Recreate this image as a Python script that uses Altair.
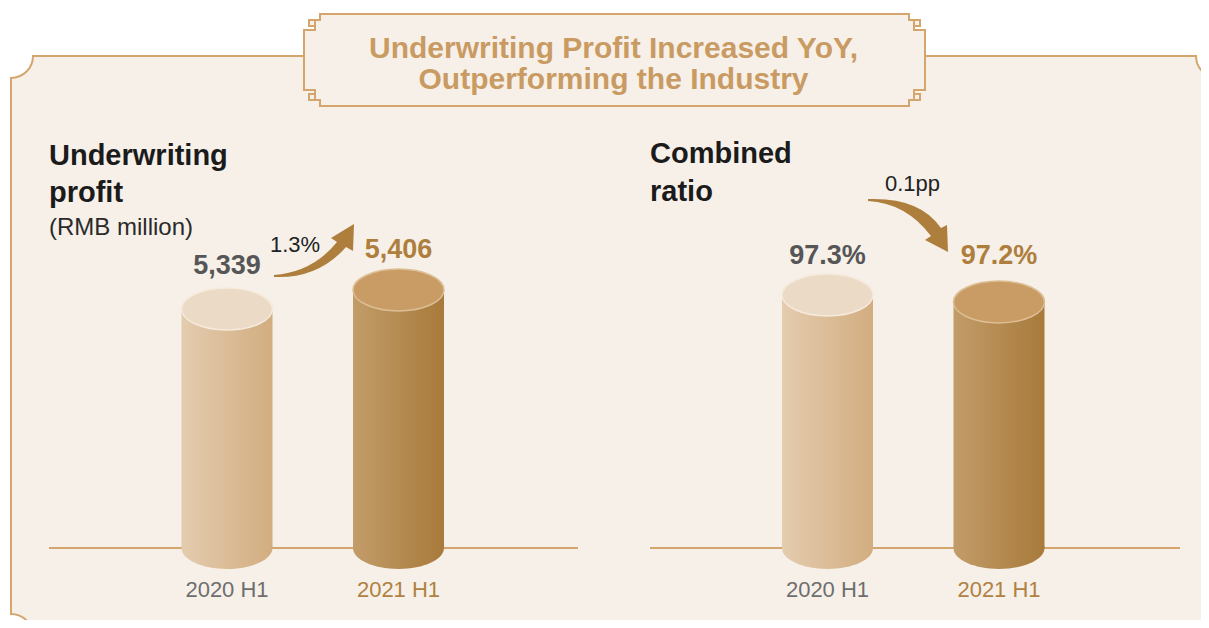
import altair as alt
import pandas as pd

# ---------------- data ----------------
periods = ["2020 H1", "2021 H1"]
profit = [5339, 5406]            # RMB million
ratio = [97.3, 97.2]             # %
profit_change = "1.3%"
ratio_change = "0.1pp"
title_lines = ["Underwriting Profit Increased YoY,", "Outperforming the Industry"]
left_title = ["Underwriting", "profit"]
left_unit = "(RMB million)"
right_title = ["Combined", "ratio"]

# ---------------- style ----------------
FONT = "Liberation Sans"
BG = "#F6F0E9"
LINE = "#D4A66E"
GOLD = "#AE7E3D"
GREY = "#565656"
TITLE_C = "#C99B63"

W, H = 1193, 612
BASE_PX = 540


def grad(c0, c1):
    return alt.LinearGradient(
        gradient="linear",
        stops=[alt.GradientStop(color=c0, offset=0), alt.GradientStop(color=c1, offset=1)],
        x1=0, x2=1, y1=0, y2=0,
    )


BODY = [grad("#E4CCAF", "#D2AD80"), grad("#C29C69", "#A87A3B")]
TOP = ["#EBDBC6", "#C99C66"]
RIM = ["#F5EADC", "#DDBE94"]
VAL_C = [GREY, GOLD]
CAT_C = ["#6E6E6E", "#B08141"]

BAR_W = 91
ELL = "M-1,0A1,0.46 0 1,0 1,0A1,0.46 0 1,0 -1,0Z"


def one():
    return alt.Chart(pd.DataFrame({"k": [0]}))


def deco(path, fill=None, stroke=None, sw=2):
    kw = dict(shape=path, size=4, opacity=1, strokeWidth=sw)
    if fill is not None:
        kw.update(filled=True, fill=fill)
    else:
        kw.update(filled=False, fill="transparent")
    if stroke is not None:
        kw.update(stroke=stroke)
    else:
        kw.update(strokeWidth=0)
    return one().mark_point(**kw).encode(x=alt.value(-8), y=alt.value(-8))


def label(text, x, y, size, color, weight="normal", align="left"):
    return one().mark_text(
        text=text, font=FONT, fontSize=size, fontWeight=weight, color=color,
        align=align, baseline="alphabetic",
    ).encode(x=alt.value(x), y=alt.value(y))


def panel(values, base, top_px, x_rng, fmt, dys):
    df = pd.DataFrame({"period": periods, "value": values})
    xs = alt.Scale(type="point", domain=periods, range=x_rng, padding=0)
    ys = alt.Scale(domain=[base, max(values)], range=[BASE_PX, top_px], zero=False, nice=False)
    X = alt.X("period:N", scale=xs, axis=None)
    Y = alt.Y("value:Q", scale=ys, axis=None)
    YB = alt.Y("base:Q", scale=ys, axis=None)
    src = alt.Chart(df).transform_calculate(base=str(base), lbl=fmt)
    out = []
    for i, p in enumerate(periods):
        d = src.transform_filter(alt.datum.period == p)
        out.append(d.mark_bar(size=BAR_W, fill=BODY[i]).encode(x=X, y=Y, y2="base:Q"))
        out.append(d.mark_point(shape=ELL, size=BAR_W * BAR_W, filled=True, fill=BODY[i],
                                strokeWidth=0, opacity=1).encode(x=X, y=YB))
        out.append(d.mark_point(shape=ELL, size=BAR_W * BAR_W, filled=True, fill=TOP[i],
                                stroke=RIM[i], strokeWidth=1.5, opacity=1).encode(x=X, y=Y))
        out.append(d.mark_text(font=FONT, fontSize=27, fontWeight="bold", dy=dys[i],
                               baseline="alphabetic", color=VAL_C[i]).encode(
            x=X, y=Y, text="lbl:N"))
        out.append(d.mark_text(font=FONT, fontSize=22, baseline="alphabetic",
                               color=CAT_C[i]).encode(
            x=X, y=alt.value(589), text="period:N"))
    return out


FRAME = ("M11,78 A22,22 0 0,0 33,56 L1196,56 A22,22 0 0,0 1218,78 L1218,614 "
         "A22,22 0 0,0 1196,636 L33,636 A22,22 0 0,0 11,614 Z")
TBOX = ("M320,14 L909,14 L909,20 L914,20 L914,30 L925,30 L925,90 L914,90 L914,100 "
        "L909,100 L909,106 L320,106 L320,100 L315,100 L315,90 L304,90 L304,30 L315,30 "
        "L315,20 L320,20 Z "
        "M315,20 L309,20 L309,26 L315,26 M315,94 L309,94 L309,100 L315,100 "
        "M914,20 L920,20 L920,26 L914,26 M914,94 L920,94 L920,100 L914,100")
ARROW_UP = ("M274,275 Q313,272 337,242 L331,238 L354,224 L353,251 L346,247 "
            "Q318,279 274,277 Z")
ARROW_DN = ("M868,199 Q920,197 941,228 L947,225 L948,252 L925,240 L931,236 "
            "Q906,203 868,201 Z")

layers = [
    deco(FRAME, fill=BG, stroke=LINE, sw=2),
    deco(TBOX, fill=BG, stroke=LINE, sw=2),
    label(title_lines[0], 605.5, 50, 30, TITLE_C, "bold", "center"),
    label(title_lines[1], 605.5, 81, 30, TITLE_C, "bold", "center"),
    label(left_title[0], 41, 157, 29, "#1B1B1B", "bold"),
    label(left_title[1], 41, 194, 29, "#1B1B1B", "bold"),
    label(left_unit, 41, 227, 24, "#2A2A2A"),
    label(right_title[0], 642, 155, 29, "#1B1B1B", "bold"),
    label(right_title[1], 642, 193, 29, "#1B1B1B", "bold"),
    one().mark_rule(color=LINE, strokeWidth=2).encode(
        x=alt.value(41), x2=alt.value(570), y=alt.value(BASE_PX)),
    one().mark_rule(color=LINE, strokeWidth=2).encode(
        x=alt.value(642), x2=alt.value(1172), y=alt.value(BASE_PX)),
    deco(ARROW_UP, fill=GOLD),
    deco(ARROW_DN, fill=GOLD),
    label(profit_change, 295 - 8, 252 - 8, 22, "#222222", align="center"),
    label(ratio_change, 904.5, 183, 22, "#222222", align="center"),
]
layers += panel(profit, 4496, 282, [219, 390.5], "format(datum.value, ',')", [-35, -32])
layers += panel(ratio, 93.686, 287, [819.5, 991], "format(datum.value, '.1f') + '%'", [-31, -38])

chart = alt.layer(*layers).resolve_scale(
    x="independent", y="independent"
).properties(
    width=W, height=H, padding=0, background="white",
    autosize=alt.AutoSizeParams(type="none"),
).configure_view(stroke=None)

chart.save("out.html", embed_options={"renderer": "svg", "actions": False})
